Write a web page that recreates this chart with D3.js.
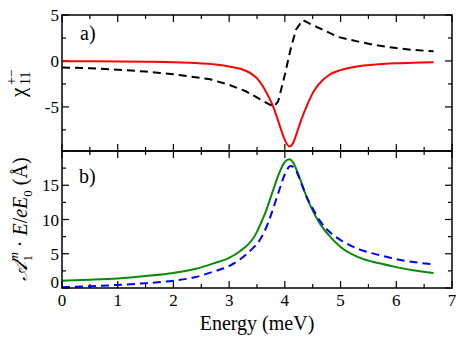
<!DOCTYPE html>
<html><head><meta charset="utf-8">
<script src="https://cdn.jsdelivr.net/npm/d3@7"></script>
<style>body{margin:0;background:#fff}svg{display:block}</style>
</head><body><div id="chart"></div>
<script>
// ---- data ----
const redE   = [0,0.5,1.0,1.5,2.0,2.5,2.8,3.0,3.2,3.4,3.5,3.6,3.7,3.8,3.9,4.0,4.08,4.15,4.2,4.3,4.4,4.5,4.6,4.8,5.0,5.3,5.6,6.0,6.3,6.67];
const chiIm  = [-0.03,-0.04,-0.06,-0.09,-0.14,-0.27,-0.42,-0.6,-0.85,-1.4,-1.9,-2.7,-3.8,-5.1,-6.9,-8.6,-9.3,-8.9,-8.1,-6.3,-4.8,-3.5,-2.6,-1.5,-1.0,-0.6,-0.4,-0.26,-0.2,-0.13];
const blackE = [0,0.5,1.0,1.5,1.76,2.0,2.5,2.66,3.0,3.3,3.55,3.8,3.88,4.0,4.1,4.2,4.32,4.48,4.7,4.96,5.32,5.6,6.0,6.3,6.67];
const chiRe  = [-0.7,-0.8,-0.95,-1.15,-1.3,-1.45,-1.85,-2.0,-2.6,-3.3,-4.15,-5.0,-4.4,-1.5,1.2,3.4,4.45,3.95,3.35,2.6,2.1,1.75,1.4,1.2,1.05];
const greenE = [0,0.5,1.0,1.5,2.0,2.4,2.72,3.0,3.2,3.4,3.5,3.55,3.65,3.79,3.9,4.0,4.08,4.15,4.25,4.39,4.5,4.63,4.8,5.0,5.35,5.7,6.0,6.3,6.67];
const amp1   = [1.05,1.2,1.4,1.75,2.2,2.8,3.6,4.4,5.4,6.9,8.2,9.1,11.0,14.3,16.8,18.4,18.8,18.3,16.4,13.3,11.3,9.4,7.6,6.0,4.4,3.6,3.05,2.6,2.2];
const blueE  = [0,0.5,1.0,1.5,2.0,2.4,2.72,3.0,3.2,3.4,3.55,3.7,3.79,3.9,4.0,4.1,4.18,4.3,4.39,4.5,4.63,4.8,5.0,5.35,5.7,6.0,6.3,6.67];
const amp2   = [0.1,0.25,0.45,0.7,1.06,1.6,2.4,3.2,4.2,5.6,7.0,9.5,11.6,14.3,16.6,17.8,17.4,15.2,13.3,11.6,9.8,8.2,7.0,5.6,4.8,4.2,3.8,3.45];
const xTicks = [0,1,2,3,4,5,6,7];
const topYTicks = [-5,0,5];
const botYTicks = [0,5,10,15];

// ---- layout ----
const W=469,H=339, L=62, R=452, T=15, M=151, B=288;
const FONT="Liberation Serif";
const svg=d3.select("#chart").append("svg").attr("width",W).attr("height",H).attr("font-family",FONT);
const x=d3.scaleLinear().domain([0,7]).range([L,R]);
const yTop=d3.scaleLinear().domain([-9.8,5]).range([M,T]);
const yBot=d3.scaleLinear().domain([0,20]).range([B,M]);

function ticksFor(scale, step){const d=scale.domain();const out=[];for(let v=Math.ceil(d[0]/step)*step; v<=d[1]+1e-9; v+=step) out.push(+v.toFixed(6)); return out;}

function frame(y0,y1){svg.append("rect").attr("x",L).attr("y",y0).attr("width",R-L).attr("height",y1-y0).attr("fill","none").attr("stroke","#000").attr("stroke-width",1.5);}

const tk=svg.append("g").attr("stroke","#000").attr("stroke-width",1.2);
function xTickMarks(yPos, dir){
  ticksFor(x,0.5).forEach(v=>{const major=Math.abs(v-Math.round(v))<1e-6; const len=major?7:4;
    tk.append("line").attr("x1",x(v)).attr("x2",x(v)).attr("y1",yPos).attr("y2",yPos+dir*len);});
}
function yTickMarks(scale, majors){
  ticksFor(scale,2.5).forEach(v=>{const major=majors.some(m=>Math.abs(m-v)<1e-6); const len=major?7:4;
    tk.append("line").attr("x1",L).attr("x2",L+len).attr("y1",scale(v)).attr("y2",scale(v));
    tk.append("line").attr("x1",R).attr("x2",R-len).attr("y1",scale(v)).attr("y2",scale(v));});
}
xTickMarks(T,1); xTickMarks(M,-1); xTickMarks(M,1); xTickMarks(B,-1);
yTickMarks(yTop,topYTicks); yTickMarks(yBot,botYTicks);

function draw(xs, ys, yScale, color, dash, curve){
  const data=xs.map((e,i)=>[e,ys[i]]);
  svg.append("path").datum(data).attr("fill","none").attr("stroke",color).attr("stroke-width",2)
    .attr("stroke-dasharray",dash||null)
    .attr("d",d3.line().x(d=>x(d[0])).y(d=>yScale(d[1])).curve(curve));
}
draw(redE,chiIm,yTop,"#ff0000",null,d3.curveMonotoneX);
draw(blackE,chiRe,yTop,"#000000","8,5",d3.curveLinear);
draw(greenE,amp1,yBot,"#0a8a0a",null,d3.curveMonotoneX);
draw(blueE,amp2,yBot,"#0000ff","8,5",d3.curveMonotoneX);

frame(T,M); frame(M,B);

function txt(sel){return sel.append("text").attr("font-family",FONT).attr("fill","#000");}
const fs=17;
xTicks.forEach(v=>txt(svg).attr("x",x(v)).attr("y",B+18).attr("text-anchor","middle").attr("font-size",fs).text(v));
topYTicks.forEach(v=>txt(svg).attr("x",L-3).attr("y",yTop(v)+6).attr("text-anchor","end").attr("font-size",fs).text(v<0?"-"+Math.abs(v):v));
botYTicks.forEach(v=>txt(svg).attr("x",L-3).attr("y",yBot(v)+(v===0?0:6)).attr("text-anchor","end").attr("font-size",fs).text(v));

txt(svg).attr("x",80).attr("y",40).attr("font-size",20).text("a)");
txt(svg).attr("x",79).attr("y",183).attr("font-size",20).text("b)");

txt(svg).attr("x",(L+R)/2).attr("y",330).attr("text-anchor","middle").attr("font-size",20).text("Energy (meV)");

const gy1=svg.append("g").attr("transform","translate(25,97) rotate(-90)");
txt(gy1).attr("x",0).attr("y",0).attr("font-size",21).text("χ");
txt(gy1).attr("x",12).attr("y",5).attr("font-size",14).text("11");
txt(gy1).attr("x",12).attr("y",-9).attr("font-size",14).text("+−");

const gy2=svg.append("g").attr("transform","translate(27,219) rotate(-90)");
const t2=txt(gy2).attr("text-anchor","middle").attr("font-size",20);
t2.append("tspan").attr("font-style","italic").text("𝒜");
t2.append("tspan").attr("font-size",13).attr("dy",5).text("1");
t2.append("tspan").attr("font-size",13).attr("font-style","italic").attr("dx",-6.5).attr("dy",-14).text("m");
t2.append("tspan").attr("dy",9).text(" · ");
t2.append("tspan").attr("font-style","italic").text("E");
t2.append("tspan").text("/");
t2.append("tspan").attr("font-style","italic").text("eE");
t2.append("tspan").attr("font-size",13).attr("dy",5).text("0");
t2.append("tspan").attr("dy",-5).text(" (Å)");
</script></body></html>
